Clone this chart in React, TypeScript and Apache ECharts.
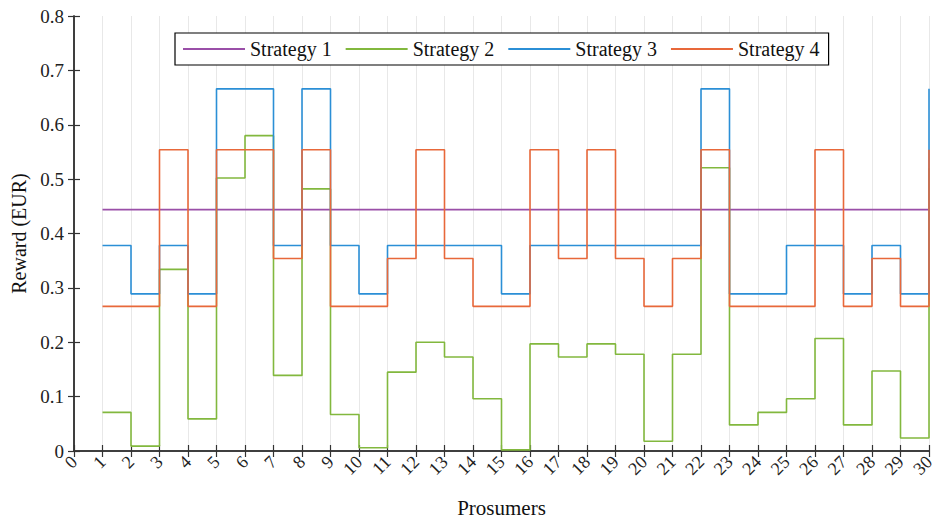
import React, { useEffect, useRef } from "react";
import * as echarts from "echarts";

const prosumers = Array.from({ length: 30 }, (_, i) => i + 1);
const strategyNames = ["Strategy 1", "Strategy 2", "Strategy 3", "Strategy 4"];

const strategy1 = [
  0.444, 0.444, 0.444, 0.444, 0.444, 0.444, 0.444, 0.444, 0.444, 0.444,
  0.444, 0.444, 0.444, 0.444, 0.444, 0.444, 0.444, 0.444, 0.444, 0.444,
  0.444, 0.444, 0.444, 0.444, 0.444, 0.444, 0.444, 0.444, 0.444, 0.444,
];
const strategy2 = [
  0.071, 0.009, 0.334, 0.059, 0.502, 0.58, 0.139, 0.482, 0.067, 0.006,
  0.145, 0.2, 0.173, 0.096, 0.002, 0.197, 0.173, 0.197, 0.178, 0.018,
  0.178, 0.521, 0.048, 0.071, 0.096, 0.207, 0.048, 0.147, 0.024, 0.52,
];
const strategy3 = [
  0.378, 0.289, 0.378, 0.289, 0.666, 0.666, 0.378, 0.666, 0.378, 0.289,
  0.378, 0.378, 0.378, 0.378, 0.289, 0.378, 0.378, 0.378, 0.378, 0.378,
  0.378, 0.666, 0.289, 0.289, 0.378, 0.378, 0.289, 0.378, 0.289, 0.666,
];
const strategy4 = [
  0.266, 0.266, 0.554, 0.266, 0.554, 0.554, 0.354, 0.554, 0.266, 0.266,
  0.354, 0.554, 0.354, 0.266, 0.266, 0.554, 0.354, 0.554, 0.354, 0.266,
  0.354, 0.554, 0.266, 0.266, 0.266, 0.554, 0.266, 0.354, 0.266, 0.554,
];
const colors = ["#9a4fa8", "#82b83e", "#2b8fd6", "#e8683a"];

const FONT = "'Liberation Serif', 'Times New Roman', serif";
const AXIS_COLOR = "#333333";

export default function App() {
  const ref = useRef<HTMLDivElement>(null);
  useEffect(() => {
    if (!ref.current) return;
    const chart = echarts.init(ref.current, null, { renderer: "svg" });
    const allSeries = [strategy1, strategy2, strategy3, strategy4];
    const baseX = {
      type: "value" as const,
      min: 0,
      max: 30,
      interval: 1,
      axisLine: { show: true, lineStyle: { color: AXIS_COLOR, width: 1.5 } },
      axisTick: { show: true, inside: true, length: 6, lineStyle: { color: AXIS_COLOR, width: 1.2 } },
      splitLine: { show: false },
    };
    const baseY = {
      type: "value" as const,
      min: 0,
      max: 0.8,
      interval: 0.1,
      axisLine: { show: true, lineStyle: { color: AXIS_COLOR, width: 1.5 } },
      axisTick: { show: true, inside: true, length: 6, lineStyle: { color: AXIS_COLOR, width: 1.2 } },
      splitLine: { show: false },
    };
    chart.setOption({
      animation: false,
      backgroundColor: "#ffffff",
      textStyle: { fontFamily: FONT },
      grid: { left: 74, right: 13, top: 16, bottom: 69, containLabel: false },
      legend: {
        data: strategyNames.map((n, i) => ({
          name: n,
          icon: "rect",
          itemStyle: { color: colors[i] },
        })),
        left: 175,
        top: 33,
        orient: "horizontal",
        itemWidth: 62,
        itemHeight: 2,
        itemGap: 14,
        padding: [6, 9, 6, 8],
        borderColor: "#000000",
        borderWidth: 1.2,
        backgroundColor: "#ffffff",
        textStyle: { fontFamily: FONT, fontSize: 20, color: "#111111", lineHeight: 20 },
      },
      xAxis: [
        {
          ...baseX,
          position: "bottom",
          name: "Prosumers",
          nameLocation: "middle",
          nameGap: 46,
          nameTextStyle: { fontFamily: FONT, fontSize: 21, color: "#111111" },
          axisLabel: {
            show: true,
            rotate: 45,
            fontFamily: FONT,
            fontSize: 18,
            color: "#222222",
            margin: 8,
          },
          splitLine: { show: true, lineStyle: { color: "#e8e8e8", width: 1 } },
        },
        {
          ...baseX,
          position: "top",
          axisLabel: { show: false },
        },
      ],
      yAxis: [
        {
          ...baseY,
          position: "left",
          name: "Reward (EUR)",
          nameLocation: "middle",
          nameGap: 41,
          nameTextStyle: { fontFamily: FONT, fontSize: 20, color: "#111111" },
          axisLabel: {
            show: true,
            fontFamily: FONT,
            fontSize: 19,
            color: "#222222",
            margin: 10,
          },
        },
        {
          ...baseY,
          position: "right",
          axisLabel: { show: false },
        },
      ],
      series: allSeries.map((vals, si) => ({
        name: strategyNames[si],
        type: "line",
        step: "end",
        xAxisIndex: 0,
        yAxisIndex: 0,
        symbol: "none",
        data: prosumers.map((p, i) => [p, vals[i]]),
        lineStyle: { color: colors[si], width: 1.6 },
        itemStyle: { color: colors[si] },
        z: 2 + si,
      })),
    });
    return () => chart.dispose();
  }, []);
  return (
    <div
      ref={ref}
      style={{ position: "fixed", left: 0, top: 0, width: 942, height: 523 }}
    />
  );
}
